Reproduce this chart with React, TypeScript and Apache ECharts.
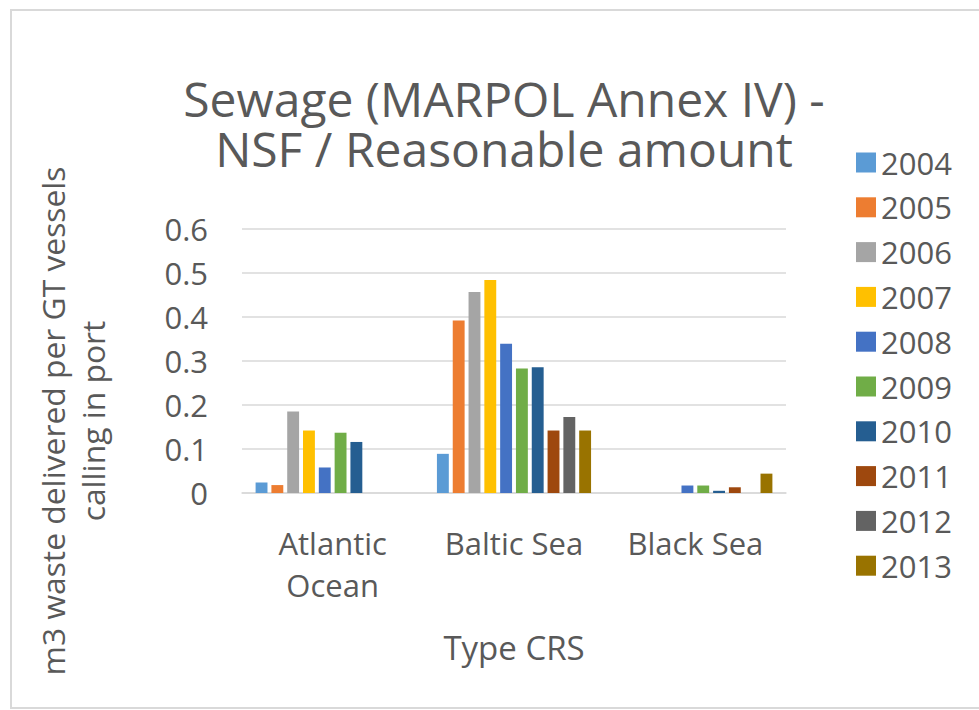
import React, { useEffect, useRef } from "react";
import * as echarts from "echarts";

const categories = ["Atlantic\nOcean", "Baltic Sea", "Black Sea"];
const years = ["2004", "2005", "2006", "2007", "2008", "2009", "2010", "2011", "2012", "2013"];
const colors = ["#5B9BD5", "#ED7D31", "#A5A5A5", "#FFC000", "#4472C4", "#70AD47", "#255E91", "#9E480E", "#636363", "#997300"];
// values per year: [Atlantic Ocean, Baltic Sea, Black Sea]
const v2004 = [0.024, 0.089, null];
const v2005 = [0.018, 0.392, null];
const v2006 = [0.185, 0.457, null];
const v2007 = [0.142, 0.484, null];
const v2008 = [0.058, 0.339, 0.017];
const v2009 = [0.137, 0.283, 0.017];
const v2010 = [0.116, 0.286, 0.005];
const v2011 = [null, 0.142, 0.013];
const v2012 = [null, 0.173, null];
const v2013 = [null, 0.142, 0.044];
const seriesValues = [v2004, v2005, v2006, v2007, v2008, v2009, v2010, v2011, v2012, v2013];
const yTicks = { min: 0, max: 0.6, interval: 0.1 };

const FONT = "'Open Sans', 'Noto Sans', sans-serif";
const TXT = "#595959";

export default function App() {
  const ref = useRef<HTMLDivElement>(null);
  useEffect(() => {
    if (!ref.current) return;
    const chart = echarts.init(ref.current, undefined, { renderer: "svg" });
    chart.setOption({
      animation: false,
      backgroundColor: "#ffffff",
      textStyle: { fontFamily: FONT },
      grid: { left: 242, right: 193, top: 229, bottom: 217, containLabel: false },
      legend: {
        orient: "vertical",
        left: 851,
        top: 142,
        itemWidth: 20,
        itemHeight: 20,
        itemGap: 13.8,
        icon: "rect",
        data: years,
        textStyle: { fontFamily: FONT, fontSize: 31, color: TXT, padding: [0, 0, 0, 0] },
      },
      xAxis: {
        type: "category",
        data: categories,
        axisLine: { lineStyle: { color: "#d9d9d9", width: 1.5 } },
        axisTick: { show: false },
        axisLabel: { fontFamily: FONT, fontSize: 31, color: TXT, lineHeight: 42, margin: 29, interval: 0 },
        name: "Type CRS",
        nameLocation: "middle",
        nameGap: 134,
        nameTextStyle: { fontFamily: FONT, fontSize: 33, color: TXT, lineHeight: 40 },
      },
      yAxis: {
        type: "value",
        min: yTicks.min,
        max: yTicks.max,
        interval: yTicks.interval,
        axisLine: { show: false },
        axisTick: { show: false },
        splitLine: { lineStyle: { color: "#d9d9d9", width: 1.5 } },
        axisLabel: { fontFamily: FONT, fontSize: 31, color: TXT, margin: 34 },
      },
      graphic: [
        {
          type: "rect",
          shape: { x: 11, y: 10, width: 1100, height: 698 },
          style: { fill: "none", stroke: "#d9d9d9", lineWidth: 2 },
          silent: true,
          z: -1,
        },
        {
          type: "text",
          x: 504,
          y: 123,
          style: {
            text: "Sewage (MARPOL Annex IV) -\nNSF / Reasonable amount",
            fontFamily: FONT,
            fontSize: 48,
            lineHeight: 50,
            fill: TXT,
            align: "center",
            verticalAlign: "middle",
          },
        },
        {
          type: "text",
          x: 72,
          y: 421,
          rotation: Math.PI / 2,
          style: {
            text: "m3 waste delivered per GT vessels\ncalling in port",
            fontFamily: FONT,
            fontSize: 31.8,
            lineHeight: 40,
            fill: TXT,
            align: "center",
            verticalAlign: "middle",
          },
        },
      ],
      series: years.map((y, i) => ({
        name: y,
        type: "bar",
        data: seriesValues[i],
        itemStyle: { color: colors[i] },
        barGap: "33%",
        barCategoryGap: "15%",
      })),
    });
    return () => chart.dispose();
  }, []);
  return <div ref={ref} style={{ position: "fixed", left: 0, top: 0, width: 979, height: 710 }} />;
}
